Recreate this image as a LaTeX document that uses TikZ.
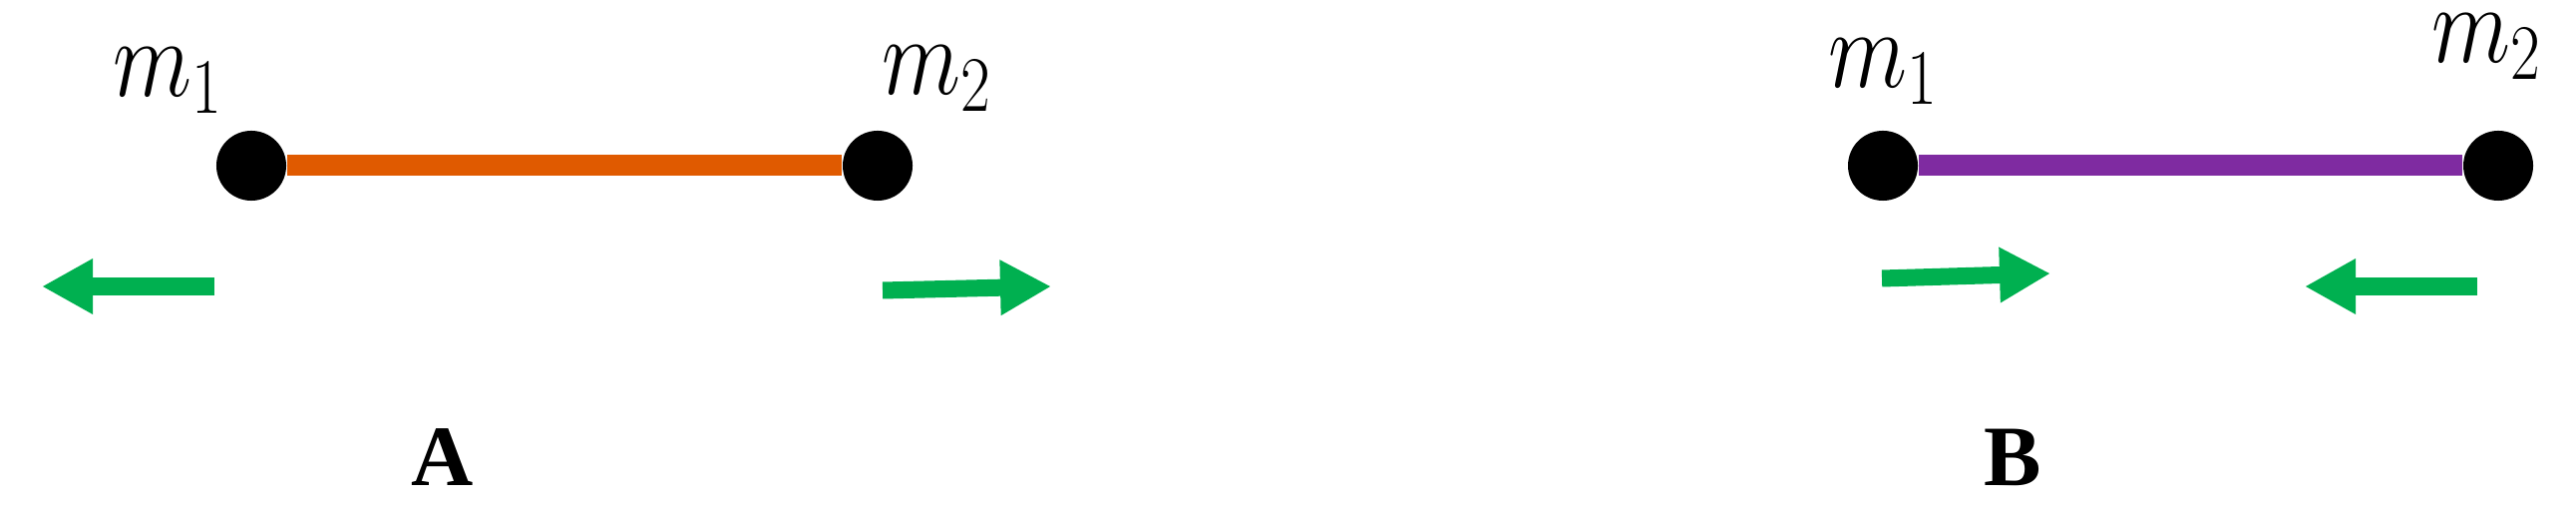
\RequirePackage{fix-cm}
\documentclass[tikz,border=0pt]{standalone}
\usepackage{amsmath}
\usepackage{fontspec}
\usepackage{tikz}
\usetikzlibrary{arrows.meta}

\newfontfamily\tagfont{Liberation Serif}
\definecolor{rodA}{RGB}{224,90,0}
\definecolor{rodB}{RGB}{127,43,161}
\definecolor{push}{RGB}{0,176,80}

\begin{document}
\begin{tikzpicture}
   [x=0.01cm,y=-0.01cm,
    mass/.style={circle,fill=black,inner sep=0pt,minimum size=0.7cm},
    mlabel/.style={anchor=base west,inner sep=0pt,xscale=0.82,transform shape,
       font=\fontsize{32}{38}\selectfont},
    rod/.style={line width=0.21cm},
    force/.style={push,line width=0.17cm,-{Triangle[length=0.51cm,width=0.52cm]}},
    tag/.style={anchor=base,inner sep=0pt,font=\fontsize{24.5}{29}\tagfont\bfseries}]
   \useasboundingbox (0,0) rectangle (2583,519);

   \node[mass] (m1A) at (252,166) {};
   \node[mass] (m2A) at (880,166) {};
   \node[mass] (m1B) at (1888,166) {};
   \node[mass] (m2B) at (2505,166) {};
   \draw[rod,rodA] (m1A) -- (m2A);
   \draw[rod,rodB] (m1B) -- (m2B);

   \node[mlabel] (l1A) at (113,97) {$m_1$};
   \node[mlabel] (l2A) at (884,95) {$m_2$};
   \node[mlabel] (l1B) at (1833,88) {$m_1$};
   \node[mlabel] (l2B) at (2438,63) {$m_2$};

   \coordinate (t1A) at (215,287);
   \coordinate (h1A) at (42,287);
   \coordinate (t2A) at (885,291);
   \coordinate (h2A) at (1054,287);
   \coordinate (t1B) at (1887,279);
   \coordinate (h1B) at (2056,274);
   \coordinate (t2B) at (2484,287);
   \coordinate (h2B) at (2311,287);
   \draw[force] (t1A) -- (h1A);
   \draw[force] (t2A) -- (h2A);
   \draw[force] (t1B) -- (h1B);
   \draw[force] (t2B) -- (h2B);

   \node[tag] (capA) at (444,487) {A};
   \node[tag] (capB) at (2018,487) {B};
\end{tikzpicture}
\end{document}
